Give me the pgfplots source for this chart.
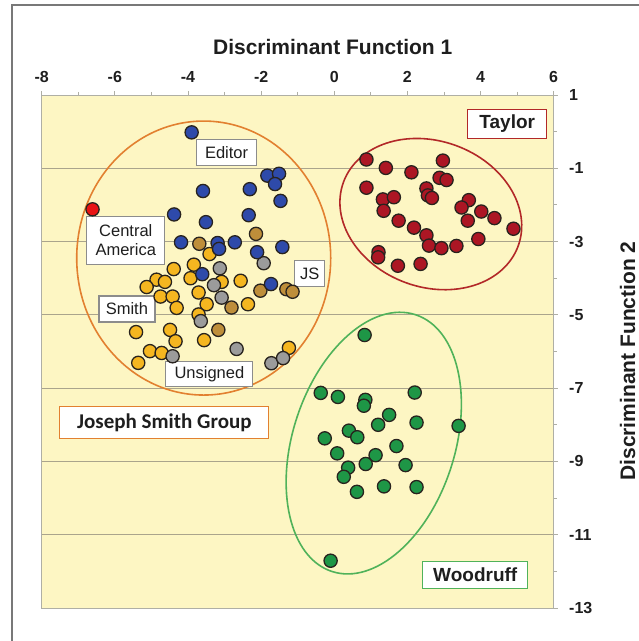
\documentclass[border=0pt]{standalone}
\usepackage{pgfplots}
\pgfplotsset{compat=1.18}
\usepackage{fontspec}
\setmainfont{Liberation Sans}
\newfontfamily\calib{Carlito}
\definecolor{bgyellow}{RGB}{253,246,195}
\definecolor{gridc}{RGB}{170,164,140}
\definecolor{axisc}{RGB}{175,175,165}
\definecolor{labc}{RGB}{30,30,30}
\definecolor{cblue}{RGB}{46,74,170}
\definecolor{cgold}{RGB}{245,182,32}
\definecolor{cbrown}{RGB}{190,142,58}
\definecolor{cgray}{RGB}{155,155,155}
\definecolor{cred}{RGB}{172,22,36}
\definecolor{cgreen}{RGB}{30,150,70}
\definecolor{cca}{RGB}{232,20,20}
\definecolor{mkedge}{RGB}{40,35,30}
\definecolor{orell}{RGB}{226,128,48}
\definecolor{redell}{RGB}{178,40,40}
\definecolor{greenell}{RGB}{80,178,90}
\definecolor{boxgray}{RGB}{140,140,140}
\definecolor{framec}{RGB}{120,120,120}

\pgfplotsset{
  pts/.style={only marks, mark=*, mark size=6.6pt,
    mark options={fill=#1, draw=mkedge, line width=1.3pt}},
}

\begin{document}
\begin{tikzpicture}[x=1pt,y=1pt]
\path[use as bounding box] (-41.7,-33) rectangle (597.3,608);
\draw[framec, line width=1.6pt] (-29.7,-40) -- (-29.7,603) -- (610,603);
\begin{axis}[
  at={(0,0)}, anchor=south west,
  scale only axis, width=512pt, height=513pt,
  xmin=-8, xmax=6, ymin=-13, ymax=1,
  xtick={-8,-6,...,6}, ytick={-13,-11,...,1},
  minor x tick num=1, minor y tick num=1,
  xtick pos=right, xticklabel pos=right,
  ytick pos=right, yticklabel pos=right,
  tick align=outside, major tick length=4pt, minor tick length=3pt,
  axis background/.style={fill=bgyellow},
  ymajorgrids, grid style={gridc, line width=0.9pt},
  axis line style={axisc, line width=0.9pt},
  tick style={axisc, line width=0.9pt},
  ticklabel style={font=\fontsize{16}{16}\selectfont\bfseries, text=labc},
  xticklabel shift=5pt, yticklabel shift=8pt,
  /pgf/number format/assume math mode=true,
  clip=false,
]
% Joseph Smith group: Smith
\addplot[pts=cgold] coordinates {
(-3.41,-3.34) (-4.39,-3.75) (-3.84,-3.63) (-3.93,-4.00) (-4.86,-4.04)
(-4.63,-4.10) (-5.13,-4.24) (-4.75,-4.50) (-4.42,-4.50) (-4.31,-4.81)
(-3.71,-4.39) (-3.49,-4.71) (-3.08,-4.10) (-2.56,-4.07) (-2.36,-4.71)
(-3.71,-4.99) (-5.42,-5.47) (-4.49,-5.41) (-4.34,-5.72) (-3.56,-5.69)
(-5.04,-5.99) (-4.72,-6.04) (-5.36,-6.31) (-1.24,-5.90)
};
% JS
\addplot[pts=cbrown] coordinates {
(-2.14,-2.79) (-3.69,-3.06) (-2.02,-4.34) (-1.31,-4.30) (-1.14,-4.37)
(-2.81,-4.80) (-3.17,-5.41)
};
% Unsigned
\addplot[pts=cgray] coordinates {
(-3.13,-3.73) (-1.93,-3.59) (-3.29,-4.19) (-3.08,-4.53) (-3.65,-5.17)
(-2.67,-5.93) (-4.42,-6.13) (-1.72,-6.32) (-1.40,-6.18)
};
% Editor
\addplot[pts=cblue] coordinates {
(-3.90,-0.02) (-1.83,-1.20) (-1.51,-1.15) (-1.62,-1.43) (-3.59,-1.62)
(-2.31,-1.57) (-1.47,-1.89) (-4.38,-2.26) (-3.51,-2.47) (-2.34,-2.28)
(-4.19,-3.02) (-3.19,-3.04) (-3.15,-3.20) (-2.72,-3.02) (-2.11,-3.29)
(-1.42,-3.15) (-3.61,-3.89) (-1.73,-4.16)
};
% Central America
\addplot[pts=cca] coordinates {(-6.61,-2.12)};
% Taylor
\addplot[pts=cred] coordinates {
(0.88,-0.76) (1.41,-0.99) (2.11,-1.11) (2.97,-0.79) (2.88,-1.26)
(3.07,-1.32) (0.88,-1.53) (2.52,-1.55) (2.56,-1.74) (2.67,-1.81)
(1.33,-1.85) (1.63,-1.79) (1.35,-2.16) (3.68,-1.87) (3.48,-2.07)
(4.02,-2.18) (4.38,-2.36) (3.65,-2.43) (1.76,-2.43) (2.18,-2.62)
(2.52,-2.83) (2.59,-3.11) (2.93,-3.18) (3.34,-3.12) (3.94,-2.93)
(4.90,-2.65) (1.21,-3.29) (1.20,-3.43) (1.74,-3.66) (2.36,-3.61)
};
% Woodruff
\addplot[pts=cgreen] coordinates {
(0.83,-5.55) (-0.37,-7.13) (0.10,-7.24) (0.85,-7.32) (0.81,-7.48)
(2.20,-7.12) (1.50,-7.73) (1.20,-8.00) (2.25,-7.94) (3.40,-8.03)
(0.40,-8.16) (0.63,-8.34) (-0.26,-8.37) (1.70,-8.58) (0.08,-8.78)
(1.13,-8.83) (0.86,-9.07) (1.95,-9.10) (0.38,-9.17) (0.26,-9.42)
(1.36,-9.68) (2.25,-9.70) (0.62,-9.83) (-0.10,-11.71)
};
% ellipses
\draw[orell, line width=1.6pt] (axis cs:-3.57,-3.45) ellipse [x radius=127pt, y radius=137pt];
\draw[redell, line width=1.6pt, rotate around={-20:(axis cs:2.64,-2.25)}] (axis cs:2.64,-2.25) ellipse [x radius=93pt, y radius=73pt];
\draw[greenell, line width=1.6pt, rotate around={72:(axis cs:1.08,-8.50)}] (axis cs:1.08,-8.50) ellipse [x radius=135pt, y radius=81pt];
% labels
\tikzset{lab/.style={draw=boxgray, line width=1.2pt, fill=white, inner sep=0pt, align=center, text=labc,
   font=\fontsize{16.5}{18.5}\selectfont}}
\node[lab, minimum width=60pt, minimum height=26pt] at (axis cs:-2.945,-0.58) {Editor};
\node[lab, minimum width=78pt, minimum height=48pt] at (axis cs:-5.70,-2.96) {Central\\America};
\node[lab, minimum width=30pt, minimum height=26pt] at (axis cs:-0.67,-3.88) {JS};
\node[lab, minimum width=56pt, minimum height=26pt] at (axis cs:-5.67,-4.84) {Smith};
\node[lab, minimum width=87pt, minimum height=25pt] at (axis cs:-3.415,-6.61) {Unsigned};
\node[lab, draw=orell, font=\calib\fontsize{21}{21}\selectfont\bfseries, minimum width=209pt, minimum height=32pt] at (axis cs:-4.645,-7.94) {Joseph Smith Group};
\node[lab, draw=redell, font=\fontsize{19}{19}\selectfont\bfseries, minimum width=79pt, minimum height=29pt] at (axis cs:4.73,0.21) {Taylor};
\node[lab, draw=greenell, font=\fontsize{19}{19}\selectfont\bfseries, minimum width=105pt, minimum height=27pt] at (axis cs:3.855,-12.10) {Woodruff};
\end{axis}
\node[font=\fontsize{21}{21}\selectfont\bfseries, text=labc] at (291,561) {Discriminant Function 1};
\node[font=\fontsize{21}{21}\selectfont\bfseries, text=labc, rotate=90] at (586,247) {Discriminant Function 2};
\end{tikzpicture}
\end{document}
